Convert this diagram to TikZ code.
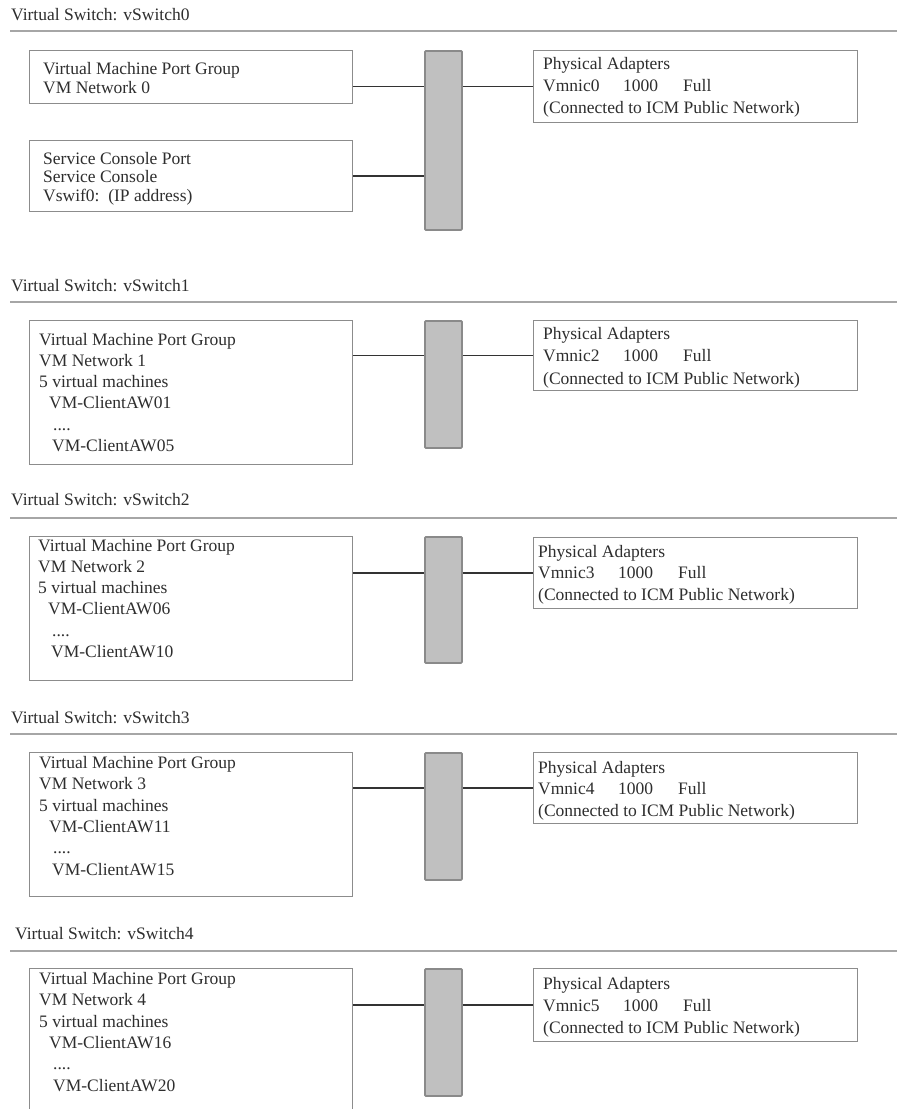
\documentclass[tikz,border=0pt]{standalone}
\usepackage{fontspec}
\setmainfont{Liberation Serif}
\definecolor{textc}{HTML}{2E2E2E}
\definecolor{boxc}{HTML}{8C8C8C}
\definecolor{barfill}{HTML}{C0C0C0}
\definecolor{barline}{HTML}{8A8A8A}
\definecolor{rulec}{HTML}{A6A6A6}
\definecolor{linkc}{HTML}{333333}
\newcommand{\nic}[1]{\makebox[80pt][l]{#1}\makebox[60pt][l]{1000}Full}
\begin{document}
\begin{tikzpicture}[x=1pt,y=-1pt,
  portbox/.style={draw=boxc, line width=1.1pt, fill=white, inner sep=0pt, anchor=north west, minimum width=323pt},
  physbox/.style={draw=boxc, line width=1.1pt, fill=white, inner sep=0pt, anchor=north west, minimum width=324pt},
  switchbar/.style={draw=barline, line width=1.8pt, fill=barfill, rounded corners=1pt, inner sep=0pt, anchor=north west, minimum width=37pt},
  txt/.style={inner sep=0pt, align=left, anchor=north west, text=textc},
  ttl/.style={inner sep=0pt, anchor=base west, text=textc, font=\fontsize{17.5}{21}\selectfont},
  hrule/.style={draw=rulec, line width=1.3pt},
  link/.style={draw=linkc, line width=1.4pt}]
\clip (0,0) rectangle (897,1109);
\fill[white] (0,0) rectangle (897,1109);

% ---------- vSwitch0 ----------
\node[ttl] (t0) at (11,20) {Virtual Switch: vSwitch0};
\draw[hrule] (10,31) -- (897,31);
\node[portbox, minimum height=53pt] (vm0) at (29,50) {};
\node[portbox, minimum height=71pt] (sc0) at (29,140) {};
\node[switchbar, minimum height=179pt] (bar0) at (424,50) {};
\node[physbox, minimum height=72pt] (ph0) at (533,50) {};
\node[txt, font=\fontsize{17.5}{19}\selectfont] (vm0t) at (43,62) {Virtual Machine Port Group\\VM Network 0};
\node[txt, font=\fontsize{17.5}{18.5}\selectfont] (sc0t) at (43,152) {Service Console Port\\Service Console\\Vswif0:\ \ (IP address)};
\node[txt, font=\fontsize{17.5}{22}\selectfont] (ph0t) at (543,57) {Physical Adapters\\\nic{Vmnic0}\\(Connected to ICM Public Network)};
\draw[link] (vm0.east |- ph0.west) -- (bar0.west |- ph0.west);
\draw[link] (sc0.east) -- (bar0.west |- sc0.east);
\draw[link] (bar0.east |- ph0.west) -- (ph0.west);

% ---------- vSwitch1 ----------
\node[ttl] (t1) at (11,291) {Virtual Switch: vSwitch1};
\draw[hrule] (10,302) -- (897,302);
\node[portbox, minimum height=144pt] (vm1) at (29,320) {};
\node[switchbar, minimum height=127pt] (bar1) at (424,320) {};
\node[physbox, minimum height=70pt] (ph1) at (533,320) {};
\node[txt, font=\fontsize{17.5}{21.2}\selectfont] (vm1t) at (39,333) {Virtual Machine Port Group\\VM Network 1\\5 virtual machines\\\hspace*{10pt}VM-ClientAW01\\\hspace*{14pt}....\\\hspace*{13pt}VM-ClientAW05};
\node[txt, font=\fontsize{17.5}{22.5}\selectfont] (ph1t) at (543,327) {Physical Adapters\\\nic{Vmnic2}\\(Connected to ICM Public Network)};
\draw[link] (vm1.east |- ph1.west) -- (bar1.west |- ph1.west);
\draw[link] (bar1.east |- ph1.west) -- (ph1.west);

% ---------- vSwitch2 ----------
\node[ttl] (t2) at (11,505) {Virtual Switch: vSwitch2};
\draw[hrule] (10,518) -- (897,518);
\node[portbox, minimum height=144pt] (vm2) at (29,536) {};
\node[switchbar, minimum height=126pt] (bar2) at (424,536) {};
\node[physbox, minimum height=71pt] (ph2) at (533,537) {};
\node[txt, font=\fontsize{17.5}{21.2}\selectfont] (vm2t) at (38,539) {Virtual Machine Port Group\\VM Network 2\\5 virtual machines\\\hspace*{10pt}VM-ClientAW06\\\hspace*{14pt}....\\\hspace*{13pt}VM-ClientAW10};
\node[txt, font=\fontsize{17.5}{21.5}\selectfont] (ph2t) at (538,545) {Physical Adapters\\\nic{Vmnic3}\\(Connected to ICM Public Network)};
\draw[link] (vm2.east |- ph2.west) -- (bar2.west |- ph2.west);
\draw[link] (bar2.east |- ph2.west) -- (ph2.west);

% ---------- vSwitch3 ----------
\node[ttl] (t3) at (11,723) {Virtual Switch: vSwitch3};
\draw[hrule] (10,734) -- (897,734);
\node[portbox, minimum height=144pt] (vm3) at (29,752) {};
\node[switchbar, minimum height=127pt] (bar3) at (424,752) {};
\node[physbox, minimum height=71pt] (ph3) at (533,752) {};
\node[txt, font=\fontsize{17.5}{21.4}\selectfont] (vm3t) at (39,756) {Virtual Machine Port Group\\VM Network 3\\5 virtual machines\\\hspace*{10pt}VM-ClientAW11\\\hspace*{14pt}....\\\hspace*{13pt}VM-ClientAW15};
\node[txt, font=\fontsize{17.5}{21.5}\selectfont] (ph3t) at (538,761) {Physical Adapters\\\nic{Vmnic4}\\(Connected to ICM Public Network)};
\draw[link] (vm3.east |- ph3.west) -- (bar3.west |- ph3.west);
\draw[link] (bar3.east |- ph3.west) -- (ph3.west);

% ---------- vSwitch4 ----------
\node[ttl] (t4) at (15,939) {Virtual Switch: vSwitch4};
\draw[hrule] (10,951) -- (897,951);
\node[portbox, minimum height=160pt] (vm4) at (29,968) {};
\node[switchbar, minimum height=127pt] (bar4) at (424,968) {};
\node[physbox, minimum height=73pt] (ph4) at (533,968) {};
\node[txt, font=\fontsize{17.5}{21.4}\selectfont] (vm4t) at (39,972) {Virtual Machine Port Group\\VM Network 4\\5 virtual machines\\\hspace*{10pt}VM-ClientAW16\\\hspace*{14pt}....\\\hspace*{14pt}VM-ClientAW20};
\node[txt, font=\fontsize{17.5}{22}\selectfont] (ph4t) at (543,977) {Physical Adapters\\\nic{Vmnic5}\\(Connected to ICM Public Network)};
\draw[link] (vm4.east |- ph4.west) -- (bar4.west |- ph4.west);
\draw[link] (bar4.east |- ph4.west) -- (ph4.west);
\end{tikzpicture}
\end{document}
